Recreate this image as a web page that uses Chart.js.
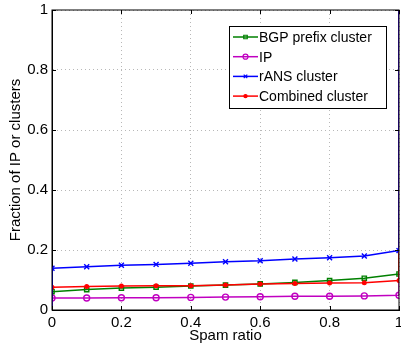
<!DOCTYPE html>
<html>
<head>
<meta charset="utf-8">
<title>Spam ratio</title>
<style>
body{margin:0;background:#fff;}
canvas{display:block;}
</style>
</head>
<body>
<canvas id="chart" width="401" height="345"></canvas>
<script src="https://cdn.jsdelivr.net/npm/chart.js"></script>
<script>
// values, markers every 0.1
const spamRatio = [0,0.1,0.2,0.3,0.4,0.5,0.6,0.7,0.8,0.9,1];
const bgpPrefix = [0.061,0.068,0.073,0.076,0.080,0.083,0.087,0.092,0.098,0.106,0.120];
const ipOnly    = [0.040,0.040,0.041,0.041,0.042,0.043,0.044,0.046,0.046,0.047,0.049];
const ransClust = [0.139,0.144,0.149,0.152,0.156,0.161,0.164,0.170,0.174,0.180,0.198];
const combined  = [0.076,0.078,0.080,0.081,0.081,0.083,0.087,0.088,0.090,0.091,0.098];
const tickVals  = [0,0.2,0.4,0.6,0.8,1];

const FONT = "'Liberation Sans', Arial, sans-serif";

// curve starts at (0,0) and ends at (1,1) like the original cdf-ish plot
function pts(vals){
  const out = [{x:0,y:0}];
  vals.forEach((v,i)=>out.push({x:spamRatio[i],y:v}));
  out.push({x:1,y:1});
  return out;
}
function series(label,vals,color,style,r,order){
  return {
    label, data:pts(vals), borderColor:color, backgroundColor:'transparent',
    borderWidth:1.5, tension:0, order,
    pointStyle:style, pointBorderColor:color, pointBorderWidth:1.4,
    pointBackgroundColor: style==='circle' && r<2.5 ? color : 'transparent',
    pointRadius: c => (c.dataIndex===0 || c.dataIndex===vals.length+1) ? 0 : r,
    pointHoverRadius:0
  };
}

const boxPlugin = {
  id:'box',
  afterDatasetsDraw(chart){
    const {ctx, chartArea:a, scales:{x,y}} = chart;
    ctx.save();
    ctx.strokeStyle = '#000';
    ctx.lineWidth = 1;
    ctx.strokeRect(a.left, a.top, a.right-a.left, a.bottom-a.top);
    // inward ticks
    ctx.beginPath();
    tickVals.forEach(v=>{
      const px = Math.round(x.getPixelForValue(v))+0.5;
      ctx.moveTo(px,a.bottom); ctx.lineTo(px,a.bottom-4);
      ctx.moveTo(px,a.top); ctx.lineTo(px,a.top+4);
      const py = Math.round(y.getPixelForValue(v))+0.5;
      ctx.moveTo(a.left,py); ctx.lineTo(a.left+4,py);
      ctx.moveTo(a.right,py); ctx.lineTo(a.right-4,py);
    });
    ctx.stroke();

    // legend box in the upper right
    const lx = 229, ly = 26, lw = 157, lh = 82;
    ctx.fillStyle = '#fff';
    ctx.fillRect(lx,ly,lw,lh);
    ctx.strokeRect(lx+0.5,ly+0.5,lw,lh);
    ctx.font = '14px ' + FONT;
    ctx.textBaseline = 'middle';
    chart.data.datasets.forEach((d,i)=>{
      const cy = ly + 11 + i*19.7;
      ctx.strokeStyle = d.borderColor;
      ctx.lineWidth = 1.5;
      ctx.beginPath(); ctx.moveTo(lx+4,cy); ctx.lineTo(lx+29,cy); ctx.stroke();
      ctx.fillStyle = d.pointBackgroundColor;
      ctx.lineWidth = 1.2;
      const r = d.pointStyle==='circle' && d.label==='Combined cluster' ? 1.6 : 2.5;
      Chart.helpers.drawPoint(ctx,{pointStyle:d.pointStyle,radius:r,borderWidth:1.2},lx+16.5,cy);
      ctx.fillStyle = '#000';
      ctx.fillText(d.label, lx+30, cy+1);
    });
    ctx.restore();
  }
};

const axisCommon = {
  type:'linear', min:0, max:1,
  grid:{color:'#b8b8b8', lineWidth:1, drawTicks:false},
  border:{display:true, color:'#000', width:1, dash:[1,3]},
};
const fmt = v => String(Number(v.toFixed(2)));

new Chart(document.getElementById('chart').getContext('2d'),{
  type:'line',
  data:{datasets:[
    series('BGP prefix cluster', bgpPrefix, '#008000', 'rect', 3, 3),
    series('IP', ipOnly, '#c000c0', 'circle', 3, 4),
    series('rANS cluster', ransClust, '#0000ff', 'crossRot', 3.5, 1),
    series('Combined cluster', combined, '#ff0000', 'circle', 1.8, 2)
  ]},
  options:{
    responsive:false, animation:false,
    layout:{padding:{top:10,right:2,left:0,bottom:0}},
    plugins:{legend:{display:false}, tooltip:{enabled:false}},
    scales:{
      x:{...axisCommon,
        ticks:{stepSize:0.2, padding:4, color:'#000', maxRotation:0, callback:fmt, font:{family:FONT,size:15}},
        title:{display:true, text:'Spam ratio', color:'#000', padding:{top:0,bottom:0}, font:{family:FONT,size:15}},
        afterFit(s){ s.height = 35; s.paddingLeft = 0; s.paddingRight = 0; }
      },
      y:{...axisCommon,
        ticks:{stepSize:0.2, padding:4, color:'#000', callback:fmt, font:{family:FONT,size:15}},
        title:{display:true, text:'Fraction of IP or clusters', color:'#000', padding:{top:7,bottom:0}, font:{family:FONT,size:15}},
        afterFit(s){ s.width = 52; s.paddingTop = 0; s.paddingBottom = 0; }
      }
    }
  },
  plugins:[boxPlugin]
});
</script>
</body>
</html>
